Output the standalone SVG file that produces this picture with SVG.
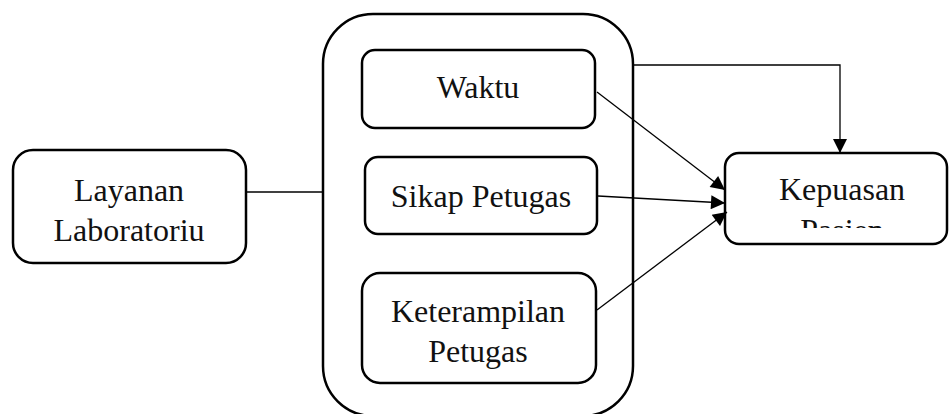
<svg xmlns="http://www.w3.org/2000/svg" width="949" height="414" viewBox="0 0 949 414">
<defs>
<style>
.box{fill:#fff;stroke:#000;stroke-width:2.5}
.frame{fill:none;stroke:#000;stroke-width:2.5}
.t{font-family:"Liberation Serif","DejaVu Serif",serif;font-size:32px;fill:#111;text-anchor:middle}
.c{fill:none;stroke:#000;stroke-width:1.3}
</style>
<marker id="ah" viewBox="0 0 10 10" refX="10" refY="5" markerWidth="16" markerHeight="14" markerUnits="userSpaceOnUse" orient="auto">
<path d="M0,0 L10,5 L0,10 Z" fill="#000"/>
</marker>
<clipPath id="kclip"><rect x="725" y="153" width="224" height="75"/></clipPath>
</defs>
<g id="container">
<rect class="frame" x="323" y="14" width="310" height="402" rx="50"/>
</g>
<g id="layanan">
<rect class="box" x="13" y="150" width="233" height="113" rx="20"/>
<text class="t" x="129" y="201">Layanan</text>
<text class="t" x="129" y="241">Laboratoriu</text>
</g>
<g id="waktu">
<rect class="box" x="362" y="50" width="233" height="78" rx="13"/>
<text class="t" x="478" y="98">Waktu</text>
</g>
<g id="sikap">
<rect class="box" x="365" y="157" width="232" height="77" rx="13"/>
<text class="t" x="481" y="207">Sikap Petugas</text>
</g>
<g id="keterampilan">
<rect class="box" x="362" y="273" width="234" height="110" rx="18"/>
<text class="t" x="478" y="322">Keterampilan</text>
<text class="t" x="478" y="362">Petugas</text>
</g>
<g id="kepuasan">
<rect class="box" x="725" y="153" width="222" height="91" rx="14"/>
<g clip-path="url(#kclip)">
<text class="t" x="842" y="200">Kepuasan</text>
<text class="t" x="842" y="241">Pasien</text>
</g>
</g>
<g id="connectors">
<line class="c" x1="246" y1="192" x2="323" y2="192"/>
<polyline class="c" points="634,65 840,65 840,153" marker-end="url(#ah)"/>
<line class="c" x1="597" y1="92" x2="725" y2="190" marker-end="url(#ah)"/>
<line class="c" x1="598" y1="196" x2="725" y2="203" marker-end="url(#ah)"/>
<line class="c" x1="597" y1="310" x2="727" y2="212" marker-end="url(#ah)"/>
</g>
</svg>
